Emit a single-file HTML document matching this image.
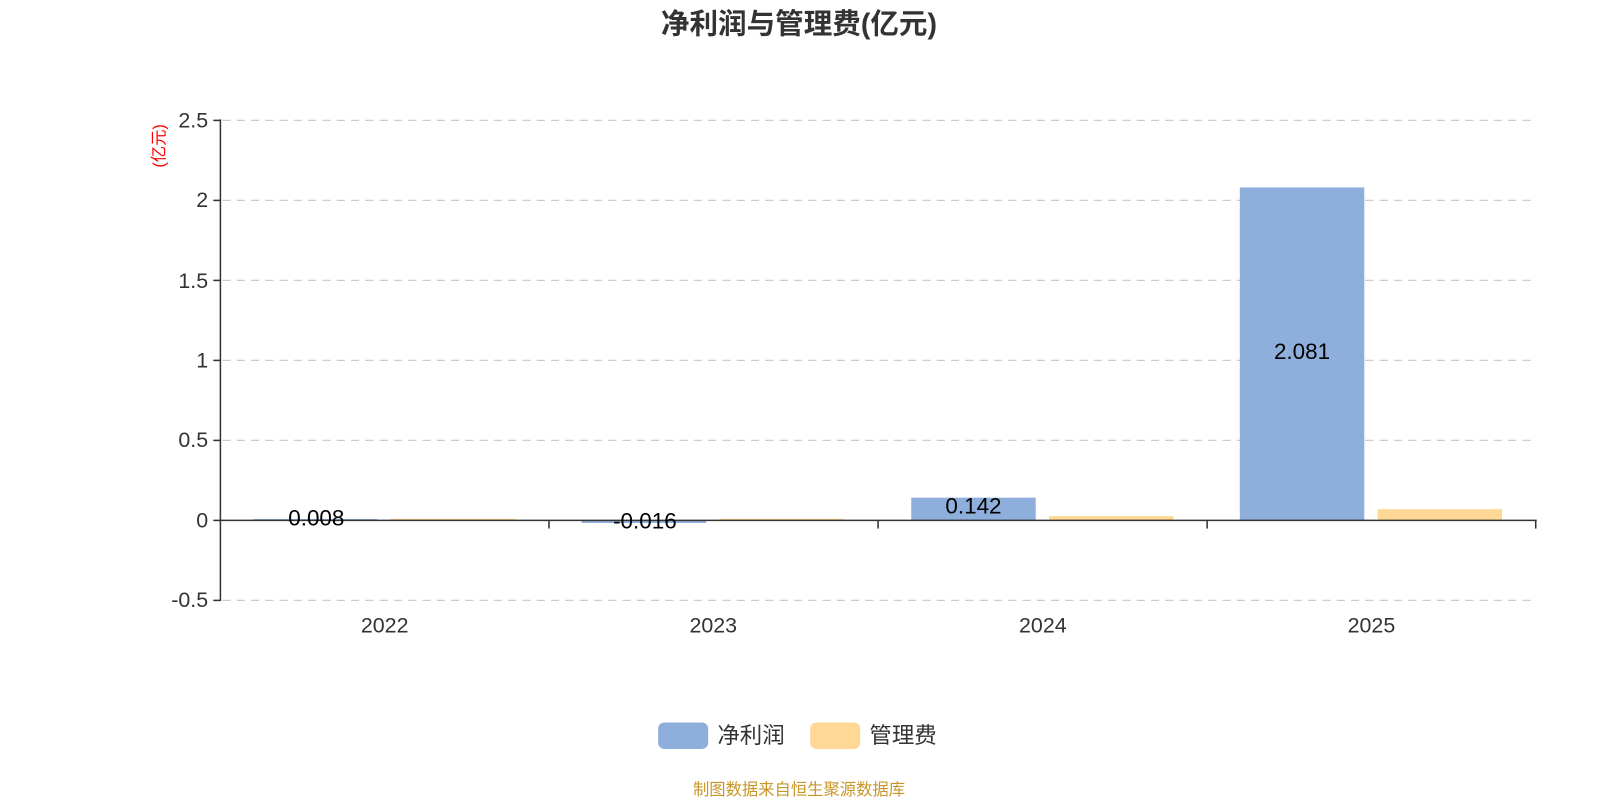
<!DOCTYPE html>
<html><head><meta charset="utf-8"><style>
html,body{margin:0;padding:0;background:#fff;}
svg{display:block;font-family:"Liberation Sans","Noto Sans CJK SC",sans-serif;}
</style></head><body>
<svg width="1600" height="800" viewBox="0 0 1568 784" preserveAspectRatio="none" xmlns="http://www.w3.org/2000/svg">
<text x="783" y="33" text-anchor="middle" font-size="28" font-weight="bold" fill="#333">净利润与管理费(亿元)</text>
<text transform="translate(161,143) rotate(-90)" text-anchor="middle" font-size="16" fill="#ff0000">(亿元)</text>
<g stroke="#ccc" stroke-width="1.2" stroke-dasharray="8,6">
<line x1="218" y1="118" x2="1505" y2="118"/>
<line x1="218" y1="196.4" x2="1505" y2="196.4"/>
<line x1="218" y1="274.8" x2="1505" y2="274.8"/>
<line x1="218" y1="353.2" x2="1505" y2="353.2"/>
<line x1="218" y1="431.6" x2="1505" y2="431.6"/>
<line x1="218" y1="588.4" x2="1505" y2="588.4"/>
</g>
<g font-size="21" fill="#333" text-anchor="end">
<text x="204" y="125">2.5</text>
<text x="204" y="203">2</text>
<text x="204" y="282">1.5</text>
<text x="204" y="360">1</text>
<text x="204" y="438">0.5</text>
<text x="204" y="517">0</text>
<text x="204" y="595">-0.5</text>
</g>
<g fill="#8eaedb">
<rect x="248" y="508.7" width="122" height="1.3"/>
<rect x="570" y="510" width="122" height="2.5"/>
<rect x="893" y="487.7" width="122" height="22.3"/>
<rect x="1215" y="183.7" width="122" height="326.3"/>
</g>
<g fill="#ffd896">
<rect x="383" y="508.4" width="122" height="1.6"/>
<rect x="705" y="508.4" width="122" height="1.6"/>
<rect x="1028" y="505.8" width="122" height="4.2"/>
<rect x="1350" y="499" width="122" height="11"/>
</g>
<g stroke="#333" stroke-width="1.5">
<line x1="216" y1="117" x2="216" y2="589"/>
<line x1="209" y1="118" x2="216" y2="118"/>
<line x1="209" y1="196.4" x2="216" y2="196.4"/>
<line x1="209" y1="274.8" x2="216" y2="274.8"/>
<line x1="209" y1="353.2" x2="216" y2="353.2"/>
<line x1="209" y1="431.6" x2="216" y2="431.6"/>
<line x1="209" y1="510" x2="216" y2="510"/>
<line x1="209" y1="588.4" x2="216" y2="588.4"/>
<line x1="216" y1="510" x2="1506" y2="510"/>
<line x1="538" y1="510" x2="538" y2="518"/>
<line x1="860.5" y1="510" x2="860.5" y2="518"/>
<line x1="1183" y1="510" x2="1183" y2="518"/>
<line x1="1505" y1="510" x2="1505" y2="518"/>
</g>
<g font-size="22" fill="#000" text-anchor="middle">
<text x="310" y="515">0.008</text>
<text x="632" y="518">-0.016</text>
<text x="954" y="503">0.142</text>
<text x="1276" y="352">2.081</text>
</g>
<g font-size="21" fill="#333" text-anchor="middle">
<text x="377" y="620">2022</text>
<text x="699" y="620">2023</text>
<text x="1022" y="620">2024</text>
<text x="1344" y="620">2025</text>
</g>
<rect x="645" y="708" width="49" height="26" rx="6" fill="#8eaedb"/>
<text x="703" y="728" font-size="22" fill="#333">净利润</text>
<rect x="794" y="708" width="49" height="26" rx="6" fill="#ffd896"/>
<text x="852" y="728" font-size="22" fill="#333">管理费</text>
<text x="783" y="779" text-anchor="middle" font-size="16" fill="#c9962a">制图数据来自恒生聚源数据库</text>
</svg>
</body></html>
